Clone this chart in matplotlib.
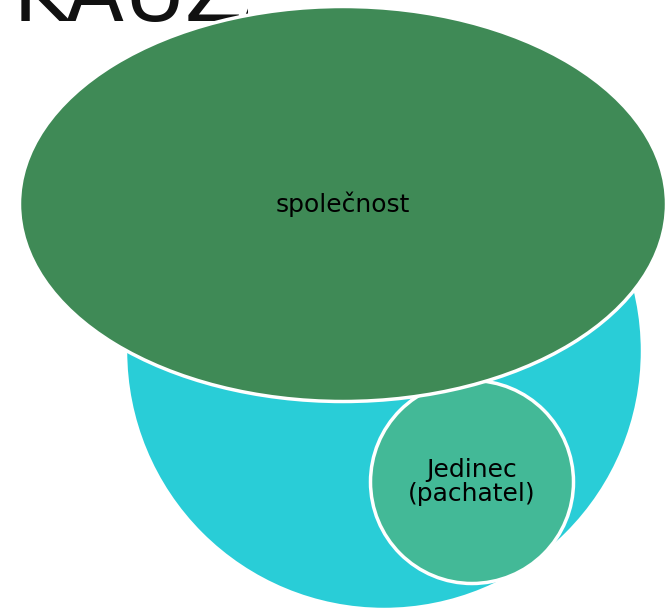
import matplotlib.pyplot as plt
from matplotlib.patches import Ellipse, Circle, Rectangle

# shapes in pixel units of the 671x611 picture
labels = ["společnost", "Jedinec\n(pachatel)"]
big_circle = (384, 351, 517)          # cx, cy, diameter
society = (343, 204, 647, 395)        # cx, cy, width, height
person = (472, 482, 203)              # cx, cy, diameter
colours = ["#29CDD7", "#3F8A56", "#43B997"]
title = "KAUZALITA"

fig = plt.figure(figsize=(6.71, 6.11), dpi=100)
ax = fig.add_axes([0, 0, 1, 1])
ax.set_xlim(0, 671)
ax.set_ylim(611, 0)
ax.set_aspect("equal")
ax.axis("off")

# slide title, only its lower left part shows on the crop
clip = Rectangle((0, 0), 248, 40, transform=ax.transData, fill=False, visible=False)
ax.add_patch(clip)
t = ax.text(13, 21, title, fontsize=61, color="#111111", ha="left", va="baseline",
            family="DejaVu Sans", zorder=1, clip_on=True)
t.set_clip_path(clip)

ax.add_patch(Circle(big_circle[:2], big_circle[2] / 2, facecolor=colours[0],
                    edgecolor="white", lw=2.5, zorder=2))
ax.add_patch(Circle(person[:2], person[2] / 2, facecolor=colours[2],
                    edgecolor="white", lw=2.5, zorder=3))
ax.add_patch(Ellipse(society[:2], society[2], society[3], facecolor=colours[1],
                     edgecolor="white", lw=2.5, zorder=4))

ax.text(society[0], society[1], labels[0], fontsize=18, ha="center", va="center",
        color="black", zorder=5)
ax.text(person[0], person[1], labels[1], fontsize=18, ha="center", va="center",
        color="black", linespacing=0.95, zorder=5)

fig.savefig("out.png", dpi=100)
